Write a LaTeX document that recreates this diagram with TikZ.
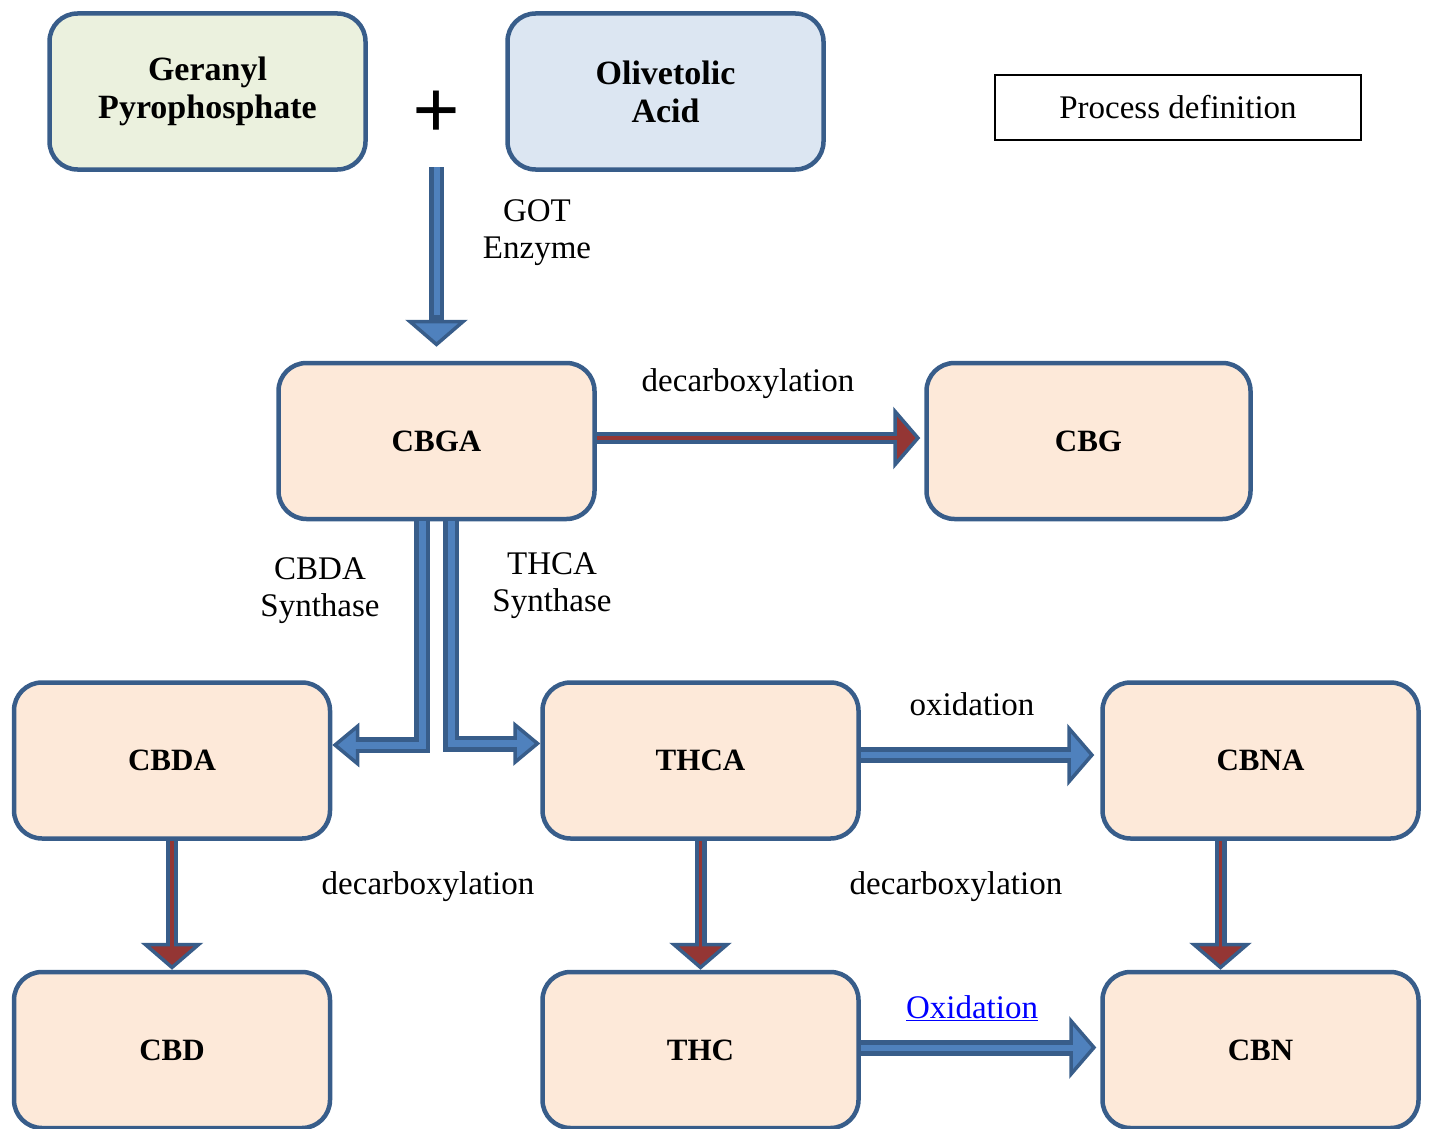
\documentclass[tikz,border=0pt]{standalone}
\usepackage{fontspec}
\setmainfont{Liberation Serif}
\usetikzlibrary{arrows.meta, positioning}

\definecolor{dkblue}{HTML}{385D8A}
\definecolor{ltblue}{HTML}{4F81BD}
\definecolor{peach}{HTML}{FDE9D9}
\definecolor{sage}{HTML}{EBF1DE}
\definecolor{pale}{HTML}{DCE6F2}
\definecolor{brick}{HTML}{943634}

\tikzset{
  compound/.style={draw=dkblue, line width=4.5pt, rounded corners=28pt, fill=peach,
    minimum width=316pt, minimum height=156pt, align=center,
    font=\fontsize{31}{35}\selectfont\bfseries},
  substrate/.style={compound, font=\fontsize{34}{38}\selectfont\bfseries},
  notetext/.style={align=center, font=\fontsize{33}{37}\selectfont},
  blueout/.style={dkblue, line width=15pt, line join=miter,
    -{Triangle[length=27pt, width=62pt, line width=3.5pt, fill=ltblue]}},
  bluein/.style={ltblue, line width=6pt, line join=miter, shorten >=18pt},
  redout/.style={dkblue, line width=12pt,
    -{Triangle[length=27pt, width=62pt, line width=3.5pt, fill=brick]}},
  redin/.style={brick, line width=3.5pt, shorten >=18pt}
}

\begin{document}
\begin{tikzpicture}[x=1pt, y=-1pt]
  \useasboundingbox (0,0) rectangle (1429,1129);
  % Substrates
  \node[substrate, fill=sage] (ger) at (207.5,91.5) {Geranyl\\Pyrophosphate};
  \node[substrate, fill=pale] (oli) at (665.5,91.5) {Olivetolic\\Acid};
  \node[font=\fontsize{84}{84}\selectfont\bfseries, inner sep=0pt] (plus) at (436.5,115) {+};
  \node[draw, line width=2pt, minimum width=366pt, minimum height=65pt,
    font=\fontsize{33}{37}\selectfont] (proc) at (1178,107.5) {Process definition};
  % Cannabinoids
  \node[compound] (cbga) at (436.5,441) {CBGA};
  \node[compound, minimum width=324pt] (cbg) at (1088.5,441) {CBG};
  \node[compound] (cbda) at (172,760.5) {CBDA};
  \node[compound] (thca) at (700.5,760.5) {THCA};
  \node[compound] (cbna) at (1260.5,760.5) {CBNA};
  \node[compound] (cbd) at (172,1050) {CBD};
  \node[compound] (thc) at (700.5,1050) {THC};
  \node[compound] (cbn) at (1260.5,1050) {CBN};

  % GOT step
  \draw[blueout] ([yshift=-52pt]plus.center) -- ([yshift=14pt]cbga.north);
  \draw[bluein, shorten >=32pt] ([yshift=-52pt]plus.center) -- ([yshift=14pt]cbga.north);
  \node[notetext] (got) at (537,233) {GOT\\Enzyme};

  % Synthase steps
  \tikzset{synth/.style={-{Triangle[length=27pt, width=44pt, line width=3.5pt, fill=ltblue]}}}
  \draw[blueout, line width=16pt, synth] ([xshift=-14.5pt]cbga.south) |- ([yshift=15.5pt]cbda.east);
  \draw[bluein, line width=7pt] ([xshift=-14.5pt]cbga.south) |- ([yshift=15.5pt]cbda.east);
  \draw[blueout, line width=16pt, synth] ([xshift=14.5pt]cbga.south) |- ([yshift=17pt]thca.west);
  \draw[bluein, line width=7pt] ([xshift=14.5pt]cbga.south) |- ([yshift=17pt]thca.west);
  \node[notetext] (cbdasyn) at (320,591) {CBDA\\Synthase};
  \node[notetext] (thcasyn) at (552,586) {THCA\\Synthase};

  % Decarboxylation
  \draw[redout, shorten >=4pt] ([yshift=3pt]cbga.east) -- ([yshift=3pt]cbg.west);
  \draw[redin, shorten >=22pt] ([yshift=3pt]cbga.east) -- ([yshift=3pt]cbg.west);
  \draw[redout] (cbda.south) -- (cbd.north);
  \draw[redin] (cbda.south) -- (cbd.north);
  \draw[redout] (thca.south) -- (thc.north);
  \draw[redin] (thca.south) -- (thc.north);
  \draw[redout] ([xshift=-40pt]cbna.south) -- ([xshift=-40pt]cbn.north);
  \draw[redin] ([xshift=-40pt]cbna.south) -- ([xshift=-40pt]cbn.north);
  \node[notetext] (dec1) at (748,384) {decarboxylation};
  \node[notetext] (dec2) at (428,887) {decarboxylation};
  \node[notetext] (dec3) at (956,887) {decarboxylation};

  % Oxidation
  \draw[blueout, line width=16pt, shorten >=6pt] ([yshift=5.5pt]thca.east) -- ([yshift=5.5pt]cbna.west);
  \draw[bluein, shorten >=24pt] ([yshift=5.5pt]thca.east) -- ([yshift=5.5pt]cbna.west);
  \draw[blueout, line width=16pt, shorten >=4pt] ([yshift=2.5pt]thc.east) -- ([yshift=2.5pt]cbn.west);
  \draw[bluein, shorten >=22pt] ([yshift=2.5pt]thc.east) -- ([yshift=2.5pt]cbn.west);
  \node[notetext] (ox1) at (972,704) {oxidation};
  \node[notetext, text=blue] (ox2) at (972,1008) {\underline{Oxidation}};
\end{tikzpicture}
\end{document}
